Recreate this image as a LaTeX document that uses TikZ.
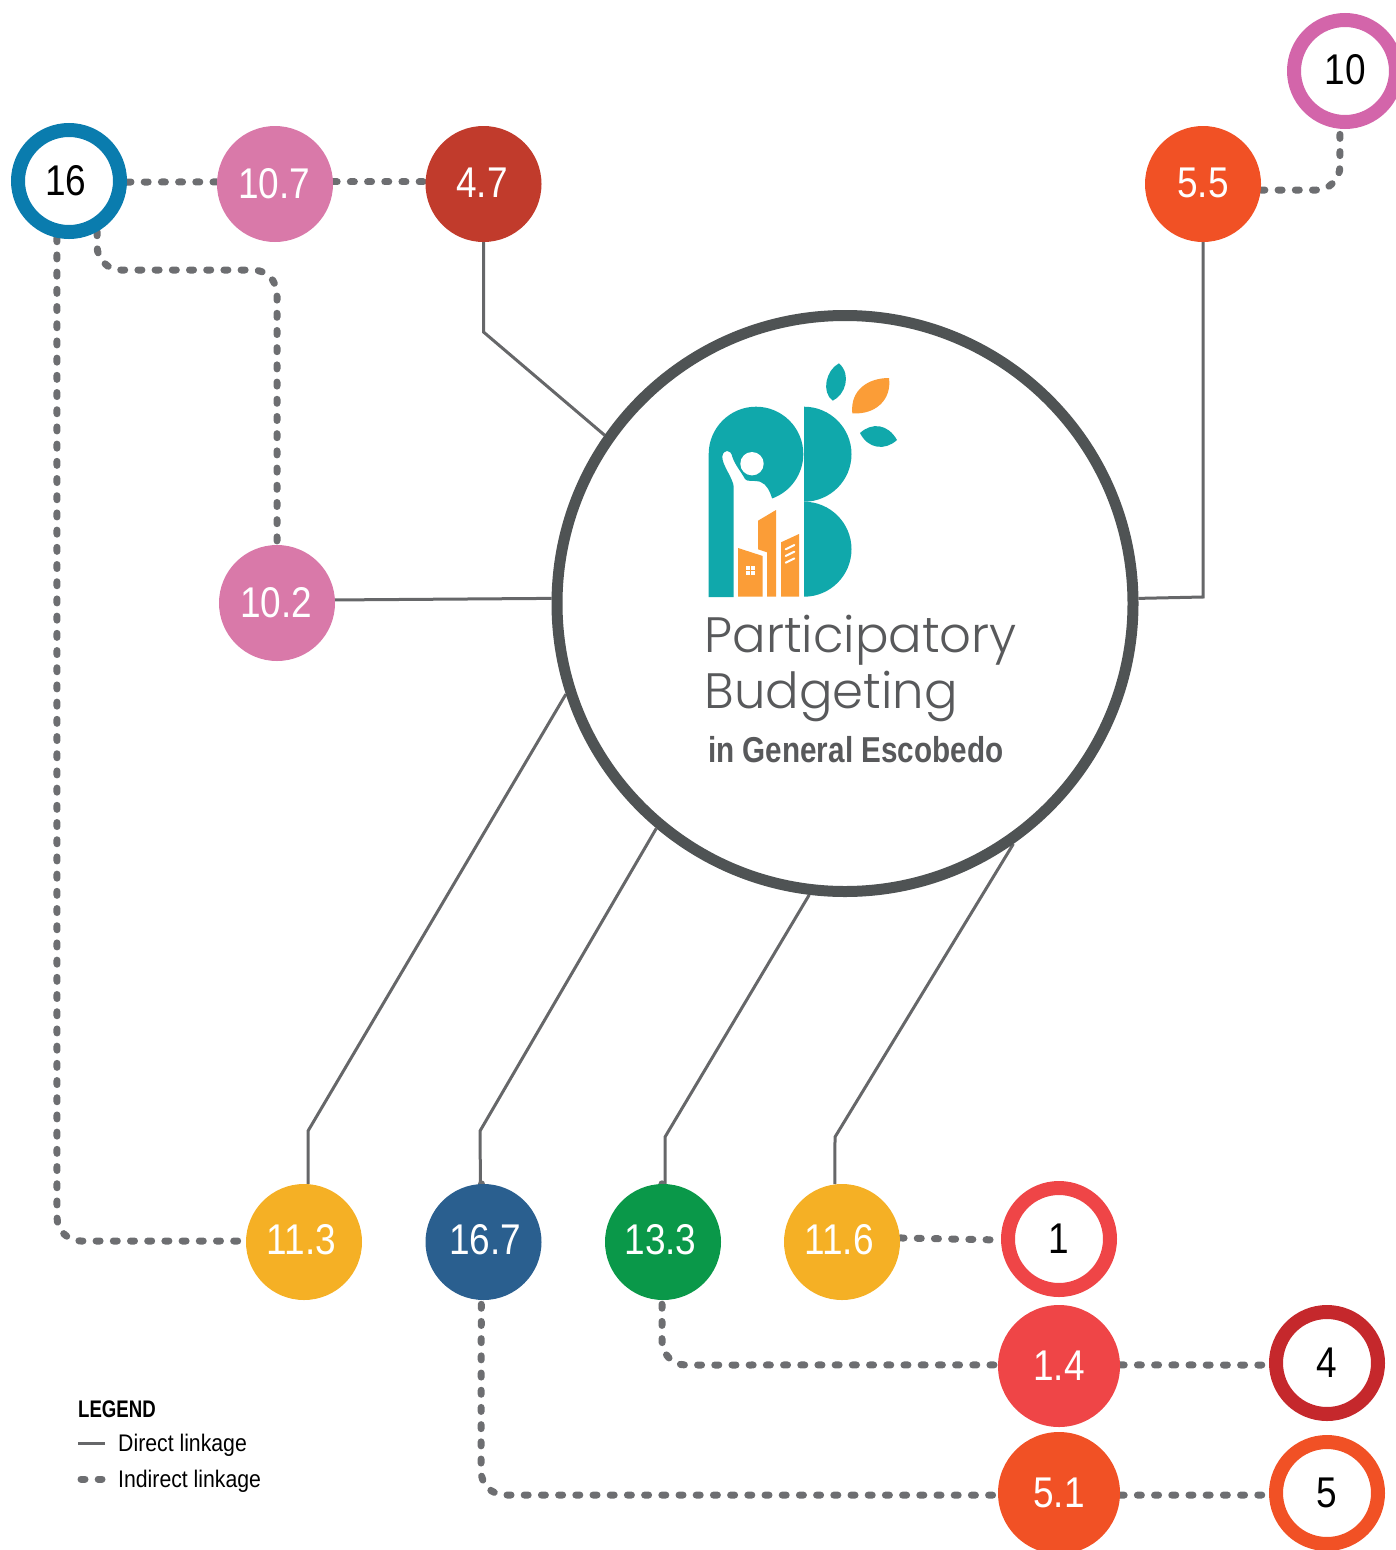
\documentclass[tikz,border=0pt]{standalone}
\usepackage{fontspec}
\setmainfont[FakeStretch=0.86]{Liberation Sans}
\newfontfamily\thinfont[UprightFont=* Light]{Poppins}
\newfontfamily\titlefont[FakeStretch=0.824]{Liberation Sans}
\newfontfamily\legendfont[FakeStretch=0.885]{Liberation Sans}
\newfontfamily\legendhead[FakeStretch=0.775]{Liberation Sans}
\usetikzlibrary{positioning,backgrounds}
\definecolor{linkgray}{HTML}{6D6E71}
\definecolor{directgray}{HTML}{666769}
\definecolor{hubgray}{HTML}{4F5354}
\definecolor{textgray}{HTML}{58595B}
\definecolor{pbteal}{HTML}{10A8AB}
\definecolor{pborange}{HTML}{FB9D37}
\definecolor{goalblue}{HTML}{0A7CAE}
\definecolor{goalpink}{HTML}{D979A9}
\definecolor{goalmagenta}{HTML}{D365AA}
\definecolor{goalbrick}{HTML}{C13B2C}
\definecolor{goalorange}{HTML}{F15125}
\definecolor{goalyellow}{HTML}{F5B025}
\definecolor{goalnavy}{HTML}{2A5F8F}
\definecolor{goalgreen}{HTML}{0A9849}
\definecolor{goalred}{HTML}{EF4547}
\definecolor{goaldark}{HTML}{C5282C}
% shifts the text in a node: values are twice the wanted shift
\newcommand{\nudged}[3]{\kern#1pt\raisebox{#2pt}{#3}}
\tikzset{
  target/.style={circle,fill=#1,draw=none,minimum size=116pt,inner sep=0pt,
    text=white,font=\fontsize{43}{43}\selectfont},
  bigtarget/.style={target=#1,minimum size=122pt},
  goal/.style={circle,draw=#1,fill=white,line width=14pt,minimum size=102pt,inner sep=0pt,
    text=black,font=\fontsize{43}{43}\selectfont},
  direct/.style={draw=directgray,line width=3pt},
  indirect/.style={draw=linkgray,line width=7pt,line cap=round,dash pattern=on 4pt off 13.2pt,rounded corners=24pt},
  titletext/.style={anchor=base west,inner sep=0pt,text=textgray},
}
\begin{document}
\begin{tikzpicture}[x=1pt,y=-1pt]
  \useasboundingbox (0,0) rectangle (1395,1550);
  % hub
  \node (hub) at (845,603.5) [circle,draw=hubgray,fill=white,line width=11pt,minimum size=576pt,inner sep=0pt] {};
  % upper row
  \node (t47) at (483.5,184) [target=goalbrick] {\nudged{-3}{2}{4.7}};
  \node (t107) at (275,184) [target=goalpink] {\nudged{-2}{2}{10.7}};
  \node (g16) at (69,181) [goal=goalblue] {\nudged{-6}{0}{16}};
  \node (t55) at (1203,184) [target=goalorange] {\nudged{0}{2}{5.5}};
  \node (g10) at (1345,71) [goal=goalmagenta] {\nudged{0}{4}{10}};
  \node (t102) at (277,603) [target=goalpink] {\nudged{-2}{2}{10.2}};
  % lower row
  \node (t113) at (304,1242) [target=goalyellow] {\nudged{-5}{6}{11.3}};
  \node (t167) at (483.5,1242) [target=goalnavy] {\nudged{3}{6}{16.7}};
  \node (t133) at (663,1242) [target=goalgreen] {\nudged{-5}{6}{13.3}};
  \node (t116) at (842,1242) [target=goalyellow] {\nudged{-6}{6}{11.6}};
  \node (g1) at (1059,1239) [goal=goalred] {1};
  \node (t14) at (1059,1366) [bigtarget=goalred] {1.4};
  \node (g4) at (1327,1363) [goal=goaldark] {4};
  \node (t51) at (1059,1493) [bigtarget=goalorange] {5.1};
  \node (g5) at (1327,1493) [goal=goalorange] {\nudged{0}{-2}{5}};
  % bends
  \coordinate (k47) at (483.5,332);
  \coordinate (k55) at (1203,597);
  \coordinate (k113) at (308,1131);
  \coordinate (k167) at (480,1131);
  \coordinate (k133) at (665,1137);
  \coordinate (k116) at (835,1137);
  \begin{pgfonlayer}{background}
    % direct links
    \draw[direct] (t47.south) -- (k47) -- (hub.145);
    \draw[direct] (t55.south) -- (k55) -- (hub.1.3);
    \draw[direct] (t102.3) -- (hub.179.3);
    \draw[direct] (t113.86) -- (k113) -- (hub.198.7);
    \draw[direct] (t167.93) -- (k167) -- (hub.230.8);
    \draw[direct] (t133.88) -- (k133) -- (hub.263.7);
    \draw[direct] (t116.97) -- (k116) -- (hub.305.4);
    % indirect links
    \draw[indirect] (g16.-1) -- (t107.178);
    \draw[indirect] (t107.2) -- (t47.178);
    \draw[indirect] (t55.-6) -- (1340,190) -- (g10.265);
    \draw[indirect] (g16.-61) -- (97,270) -- (277,270) -- (t102.north);
    \draw[indirect] (g16.258) -- (57,1241) -- (t113.179);
    \draw[indirect] (t116.4) -- (g1.181);
    \draw[indirect] (t133.91) -- (662,1365) -- (t14.179);
    \draw[indirect] (t14.1) -- (g4.182);
    \draw[indirect] (t167.92) -- (481,1495) -- (t51.182);
    \draw[indirect] (t51.-2) -- (g5.182);
  \end{pgfonlayer}
  % logo
  \fill[pbteal] (708.7,597) -- (708.7,454) arc[start angle=180,end angle=-70,radius=47.3pt]
    .. controls (770,492) and (767,484) .. (760,481.7)
    .. controls (752,480) and (747,482) .. (745,479)
    .. controls (740,470) and (735,465) .. (732.3,456.7)
    .. controls (731,449) and (723,449) .. (722.3,456.7)
    .. controls (722,465) and (733,478) .. (733.7,486.7)
    -- (733.7,597) -- cycle;
  \fill[white] (752,463.7) circle[radius=11.7pt];
  \fill[pbteal] (804,406.7) arc[start angle=90,end angle=-90,radius=47.5pt] -- cycle;
  \fill[pbteal] (804,501.7) arc[start angle=90,end angle=-90,radius=47.5pt] -- cycle;
  \fill[pbteal] (839,363.3) .. controls (826,370) and (821,392) .. (832.7,400.7)
    .. controls (845,395) and (852,375) .. (839,363.3);
  \fill[pborange] (889,378) .. controls (868,378) and (850,390) .. (852.3,413.3)
    .. controls (875,415) and (892,400) .. (889,378);
  \fill[pbteal] (860,433) .. controls (872,422) and (888,424) .. (897,440)
    .. controls (885,451) and (868,449) .. (860,433);
  \fill[pborange] (738,596.7) -- (738,548) -- (762.7,556) -- (762.7,596.7) -- cycle;
  \fill[pborange] (758,520.7) -- (776,510) -- (776,596.7) -- (767,596.7) -- (767,552.3) -- (758,549.3) -- cycle;
  \fill[pborange] (781,596.7) -- (781,542.3) -- (799,534) -- (799,596.7) -- cycle;
  \foreach \ybar in {549.3,556,562.7}
    \draw[white,line width=2pt,line cap=round] (785.7,\ybar) -- (794.3,\ybar-4.3);
  \foreach \xwin in {746,751}
    \foreach \ywin in {565.5,570.5}
      \fill[white] (\xwin,\ywin) rectangle ++(4,4);
  % title
  \node (title1) at (704.5,652.5) [titletext,font=\thinfont\fontsize{49.7}{49.7}\selectfont] {Participatory};
  \node (title2) at (704.5,708.5) [titletext,font=\thinfont\fontsize{49.7}{49.7}\selectfont] {Budgeting};
  \node (title3) at (708,762) [titletext,font=\titlefont\bfseries\fontsize{36}{36}\selectfont] {in General Escobedo};
  % legend
  \node (legend) at (78,1417) [anchor=base west,inner sep=0pt,font=\legendhead\bfseries\fontsize{24}{24}\selectfont] {LEGEND};
  \node (ldirect) at (118,1451) [anchor=base west,inner sep=0pt,font=\legendfont\fontsize{24}{24}\selectfont] {Direct linkage};
  \node (lindirect) at (118,1487) [anchor=base west,inner sep=0pt,font=\legendfont\fontsize{24}{24}\selectfont] {Indirect linkage};
  \coordinate (s1) at (78,1443);
  \coordinate (s2) at (81,1479);
  \draw[direct] (s1) -- ++(27,0);
  \draw[indirect] (s2) -- ++(21,0);
\end{tikzpicture}
\end{document}
